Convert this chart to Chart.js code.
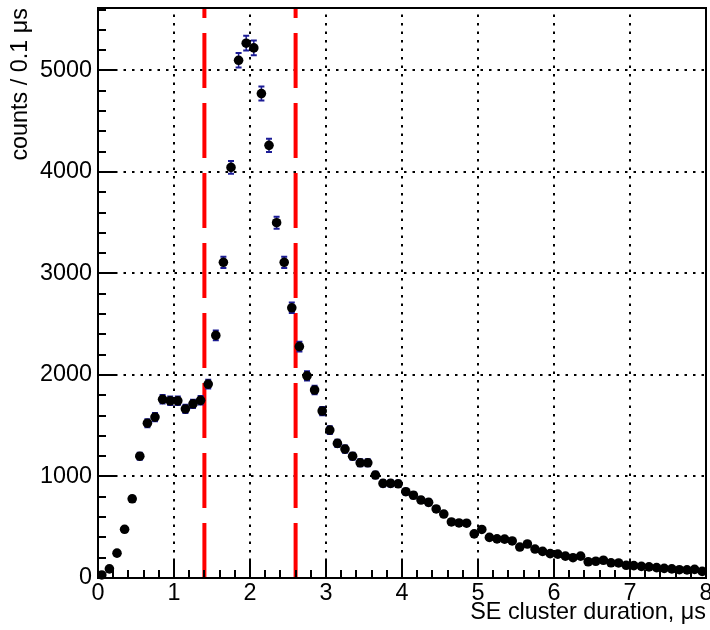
<!DOCTYPE html>
<html>
<head>
<meta charset="utf-8">
<script src="https://cdn.jsdelivr.net/npm/chart.js@4"></script>
<style>
  html, body { margin: 0; padding: 0; background: #fff; }
  #plot { display: block; }
</style>
</head>
<body>
<canvas id="plot" width="710" height="630"></canvas>
<script>
// bin centres, µs (0.1 µs bins)
const binCenters = [
  0.05, 0.15, 0.25, 0.35, 0.45, 0.55, 0.65, 0.75, 0.85, 0.95,
  1.05, 1.15, 1.25, 1.35, 1.45, 1.55, 1.65, 1.75, 1.85, 1.95,
  2.05, 2.15, 2.25, 2.35, 2.45, 2.55, 2.65, 2.75, 2.85, 2.95,
  3.05, 3.15, 3.25, 3.35, 3.45, 3.55, 3.65, 3.75, 3.85, 3.95,
  4.05, 4.15, 4.25, 4.35, 4.45, 4.55, 4.65, 4.75, 4.85, 4.95,
  5.05, 5.15, 5.25, 5.35, 5.45, 5.55, 5.65, 5.75, 5.85, 5.95,
  6.05, 6.15, 6.25, 6.35, 6.45, 6.55, 6.65, 6.75, 6.85, 6.95,
  7.05, 7.15, 7.25, 7.35, 7.45, 7.55, 7.65, 7.75, 7.85, 7.95
];

// counts per bin
const counts = [
  30, 90, 245, 480, 780, 1200, 1525, 1585, 1760, 1745,
  1745, 1665, 1715, 1750, 1910, 2390, 3110, 4045, 5100, 5268,
  5222, 4772, 4262, 3500, 3110, 2662, 2280, 1991, 1852, 1645,
  1457, 1326, 1270, 1200, 1135, 1135, 1014, 932, 932, 928,
  850, 815, 768, 745, 680, 630, 552, 542, 540, 435,
  478, 400, 385, 383, 365, 305, 335, 285, 262, 240,
  235, 215, 200, 215, 160, 165, 175, 150, 148, 125,
  122, 115, 110, 102, 95, 90, 82, 80, 85, 65
];

const cutLines = [1.4, 2.6];
const xTicks = [0, 1, 2, 3, 4, 5, 6, 7, 8];
const yTicks = [0, 1000, 2000, 3000, 4000, 5000];
const xMinorStep = 0.2;
const yMinorStep = 200;

const FONT = "'Liberation Sans', Arial, Helvetica, sans-serif";
const FONT_SIZE = 23.4;

const points = binCenters.map((x, i) => ({ x: x, y: counts[i] }));

// grid, cut lines, error bars and frame, all placed with the chart scales
const rootStyle = {
  id: "rootStyle",
  beforeDatasetsDraw(chart) {
    const { ctx, chartArea: a, scales: { x, y } } = chart;
    ctx.save();

    // dotted grid
    ctx.strokeStyle = "#000";
    ctx.lineWidth = 2;
    ctx.setLineDash([2.5, 6]);
    xTicks.slice(1, -1).forEach((v) => {
      const px = Math.round(x.getPixelForValue(v));
      ctx.beginPath();
      ctx.moveTo(px, a.bottom);
      ctx.lineTo(px, a.top);
      ctx.stroke();
    });
    yTicks.slice(1).forEach((v) => {
      const py = Math.round(y.getPixelForValue(v));
      ctx.beginPath();
      ctx.moveTo(a.left, py);
      ctx.lineTo(a.right, py);
      ctx.stroke();
    });

    // red cut lines
    ctx.strokeStyle = "#ff0000";
    ctx.lineWidth = 4;
    ctx.setLineDash([55, 15]);
    cutLines.forEach((v) => {
      const px = x.getPixelForValue(v);
      ctx.beginPath();
      ctx.moveTo(px, a.bottom);
      ctx.lineTo(px, a.top);
      ctx.stroke();
    });

    // poisson error bars
    ctx.setLineDash([]);
    ctx.strokeStyle = "#1c1c96";
    points.forEach((p) => {
      const e = Math.sqrt(p.y);
      const px = x.getPixelForValue(p.x);
      const y1 = y.getPixelForValue(p.y - e);
      const y2 = y.getPixelForValue(p.y + e);
      ctx.lineWidth = 1.5;
      ctx.beginPath();
      ctx.moveTo(px, y1);
      ctx.lineTo(px, y2);
      ctx.stroke();
      ctx.lineWidth = 2;
      ctx.beginPath();
      ctx.moveTo(px - 3, y1);
      ctx.lineTo(px + 3, y1);
      ctx.moveTo(px - 3, y2);
      ctx.lineTo(px + 3, y2);
      ctx.stroke();
    });

    // frame
    ctx.strokeStyle = "#000";
    ctx.lineWidth = 2;
    ctx.strokeRect(a.left, a.top, a.right - a.left, a.bottom - a.top);

    // inward ticks
    ctx.beginPath();
    for (let v = 0; v <= 8 + 1e-9; v += xMinorStep) {
      const px = Math.round(x.getPixelForValue(v));
      const major = Math.abs(v - Math.round(v)) < 1e-6;
      ctx.moveTo(px, a.bottom);
      ctx.lineTo(px, a.bottom - (major ? 17 : 8));
    }
    for (let v = 0; v <= y.max; v += yMinorStep) {
      const py = Math.round(y.getPixelForValue(v));
      const major = v % 1000 === 0;
      ctx.moveTo(a.left, py);
      ctx.lineTo(a.left + (major ? 17 : 8), py);
    }
    ctx.stroke();

    ctx.restore();
  },
};

new Chart(document.getElementById("plot"), {
  type: "scatter",
  data: {
    datasets: [
      {
        data: points,
        pointRadius: 4.8,
        pointBackgroundColor: "#000",
        pointBorderWidth: 0,
        clip: false,
      },
    ],
  },
  options: {
    responsive: false,
    animation: false,
    events: [],
    layout: { autoPadding: false, padding: { left: 0, right: 4, top: 8, bottom: 0 } },
    plugins: { legend: { display: false }, tooltip: { enabled: false } },
    scales: {
      x: {
        type: "linear",
        min: 0,
        max: 8,
        afterFit: (s) => {
          s.height = 52;
          s.paddingLeft = 0;
          s.paddingRight = 0;
        },
        afterBuildTicks: (s) => { s.ticks = xTicks.map((v) => ({ value: v })); },
        grid: { display: false, drawTicks: false },
        border: { display: false },
        ticks: {
          color: "#000",
          padding: 2,
          maxRotation: 0,
          autoSkip: false,
          callback: (v) => String(v),
          font: { family: FONT, size: FONT_SIZE },
        },
        title: {
          display: true,
          text: "SE cluster duration, μs",
          align: "end",
          color: "#000",
          padding: { top: 0, bottom: 3 },
          font: { family: FONT, size: FONT_SIZE },
        },
      },
      y: {
        type: "linear",
        min: 0,
        max: 5615,
        afterFit: (s) => {
          s.width = 98;
          s.paddingTop = 0;
          s.paddingBottom = 0;
        },
        afterBuildTicks: (s) => { s.ticks = yTicks.map((v) => ({ value: v })); },
        grid: { display: false, drawTicks: false },
        border: { display: false },
        ticks: {
          color: "#000",
          padding: 6,
          autoSkip: false,
          callback: (v) => String(v),
          font: { family: FONT, size: FONT_SIZE },
        },
        title: {
          display: true,
          text: "counts / 0.1 μs",
          align: "end",
          color: "#000",
          padding: { top: 7, bottom: 0 },
          font: { family: FONT, size: FONT_SIZE },
        },
      },
    },
  },
  plugins: [rootStyle],
});
</script>
</body>
</html>
